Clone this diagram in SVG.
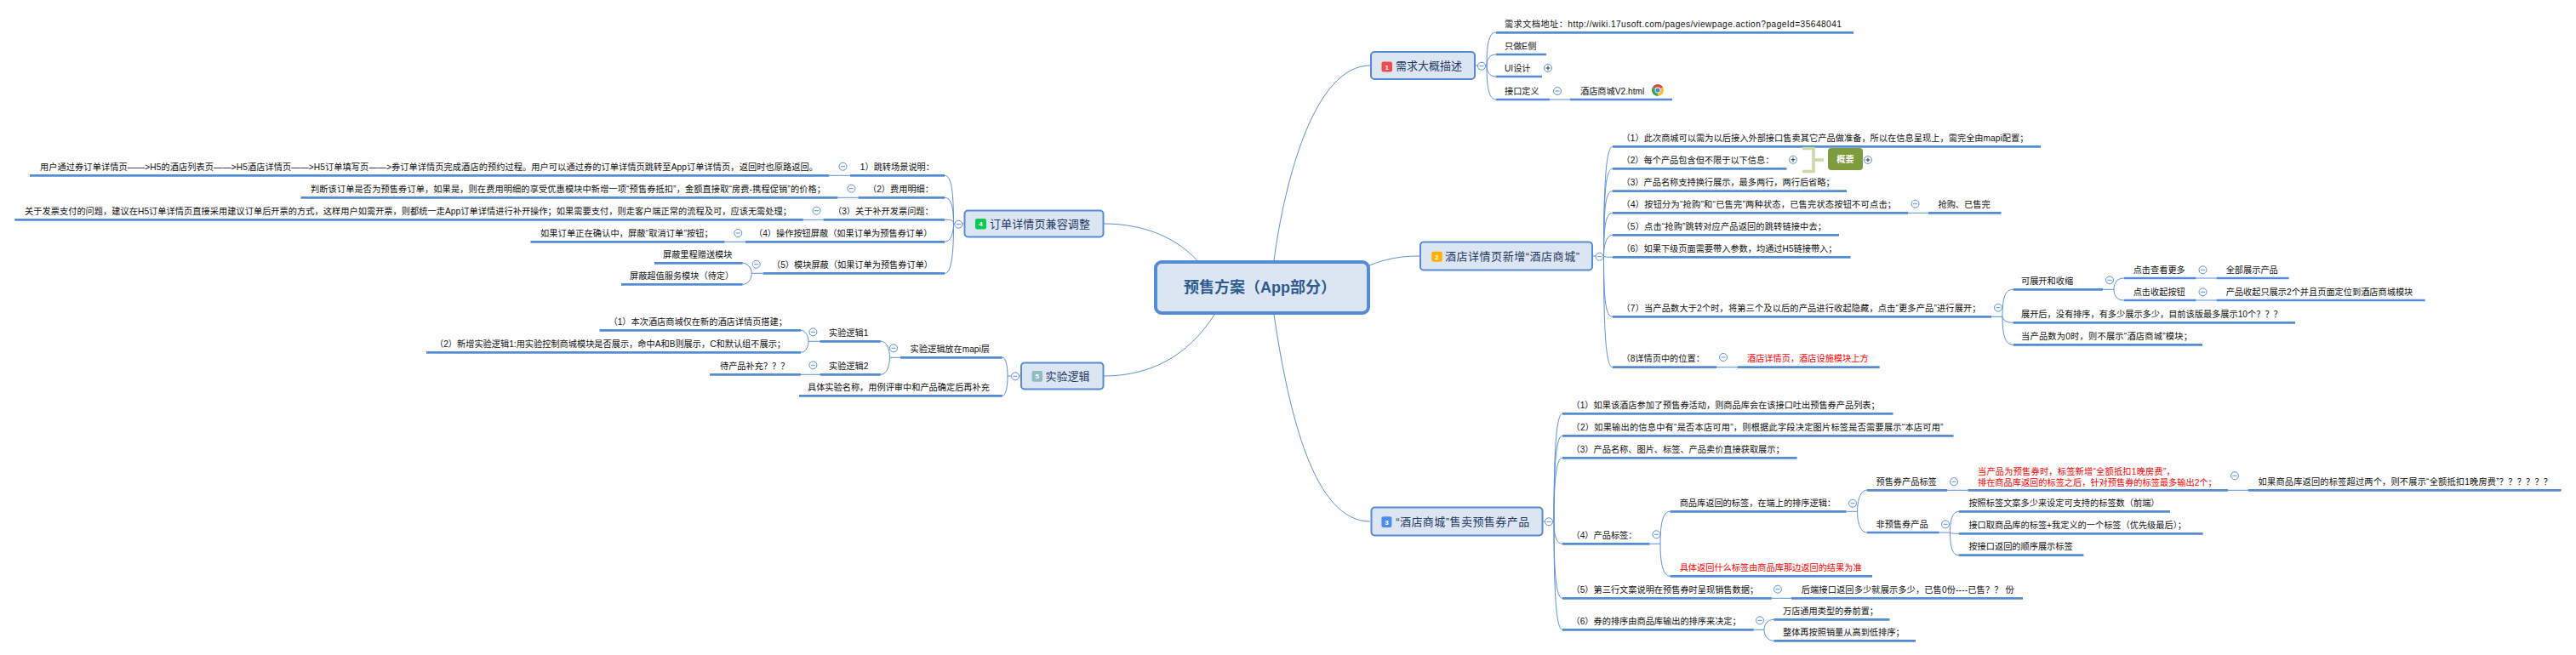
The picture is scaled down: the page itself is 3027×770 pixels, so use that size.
<svg xmlns="http://www.w3.org/2000/svg" xmlns:xlink="http://www.w3.org/1999/xlink" width="3027" height="770" viewBox="0 0 3027 770">
<style>
text{font-family:"Liberation Sans","Noto Sans CJK SC",sans-serif;font-size:10.2px;fill:#111}
.r{fill:#f00}
.u{stroke:#568bd5;stroke-width:2.7;fill:none}
.c{stroke:#5c90d8;stroke-width:1;fill:none}
.b{fill:#dce6f2;stroke:#568bd5;stroke-width:2}
.h{font-size:13px;fill:#1f3864}
.n{font-size:8px;font-weight:700;fill:#fff;text-anchor:middle}
.k{fill:#fff;stroke:#5c90d8;stroke-width:1}
</style>
<defs>
<g id="mi"><circle class="k" r="4.5"/><path d="M-2.5 0H2.5" stroke="#5c90d8" stroke-width="1"/></g>
<g id="pl"><circle class="k" r="4.5"/><path d="M-2.5 0H2.5M0 -2.5V2.5" stroke="#333" stroke-width="1"/></g>
</defs>
<rect width="3027" height="770" fill="#fff"/>
<g id="connectors">
<path class="c" d="M1610 77C1545 77 1510 210 1497 306"/>
<path class="c" d="M1609 312C1630 304 1645 301 1668 301"/>
<path class="c" d="M1497 370C1515 490 1545 613 1610 613"/>
<path class="c" d="M1297 263C1345 263 1385 280 1410 310"/>
<path class="c" d="M1297 442C1350 442 1395 420 1427 370"/>
<path class="c" d="M1734 77H1747M1747 77C1747 50 1750 38 1758 38M1747 77C1747 70 1750 64 1758 64M1747 77C1747 84 1750 90 1758 90M1747 77C1747 104 1750 117 1758 117M1821 117H1845"/>
<path class="c" d="M1872 301H1884.500M1884.500 301C1884.500 220 1887 172.300 1895 172.300M1884.500 301C1884.500 225 1887 198.300 1895 198.300M1884.500 301C1884.500 240 1887 224.700 1895 224.700M1884.500 301C1884.500 265 1887 250.300 1895 250.300M1884.500 301C1884.500 290 1887 276.300 1895 276.300M1884.500 301C1885 302 1887 302.300 1895 302.300M1884.500 301C1884.500 355 1887 372.300 1895 372.300M1884.500 301C1884.500 390 1887 431.700 1895 431.700M2242 250.300H2266M2017 431.700H2041.600"/>
<path class="c" d="M2340 372.300H2353M2353 372.300C2353 350 2356 340.300 2365.600 340.300M2353 372.300C2354 376 2357 379.300 2365.600 379.300M2353 372.300C2353 393 2356 405.300 2365.600 405.300M2471 340.300H2484M2484 340.300C2484 332 2488 327 2496 327M2484 340.300C2484 348 2488 353 2496 353M2580.500 327H2604.500M2580.500 353H2604.500"/>
<path class="c" d="M1813 613H1826M1826 613C1826 540 1828 486.300 1836 486.300M1826 613C1826 550 1828 512.300 1836 512.300M1826 613C1826 570 1828 538.300 1836 538.300M1826 613C1826 630 1829 639.300 1836 639.300M1826 613C1826 670 1828 703.300 1836 703.300M1826 613C1826 690 1828 740.300 1836 740.300"/>
<path class="c" d="M1938.400 639.300H1951M1951 639.300C1951 615 1954 601.300 1962.500 601.300M1951 639.300C1951 662 1954 677.300 1962.500 677.300M2169.600 601.300H2182.600M2182.600 601.300C2182.600 588 2186 576.300 2193.800 576.300M2182.600 601.300C2182.600 614 2186 626 2193.800 626M2288 576.300H2312.500M2618 576.300H2642M2278.600 626H2291.500M2291.500 626C2291.500 612 2294 601.300 2301.800 601.300M2291.500 626C2292 627 2295 627.300 2301.800 627.300M2291.500 626C2291.500 642 2294 652.700 2301.800 652.700M2081.700 703.300H2105M2060.700 740.300H2073M2073 740.300C2073 734 2077 728.300 2084.400 728.300M2073 740.300C2073 747 2077 753.300 2084.400 753.300"/>
<path class="c" d="M1132.500 263H1120.500M1120.500 263C1120.500 225 1118 206.300 1110 206.300M1120.500 263C1120.500 245 1118 232.300 1110 232.300M1120.500 263C1120 258 1117 258.300 1110 258.300M1120.500 263C1120.500 272 1118 284.300 1110 284.300M1120.500 263C1120.500 300 1118 321.300 1110 321.300M974.400 206.300H999M984.400 232.300H1008.500M943.800 258.300H967.500M851.600 284.300H875.700M896.700 321.300H883.300M883.300 321.300C883.300 316 879 309.300 872.600 309.300M883.300 321.300C883.300 328 879 334.300 872.600 334.300"/>
<path class="c" d="M1199 442H1184M1184 442C1184 430 1182 420.300 1177.700 420.300M1184 442C1184 455 1182 465.300 1177.700 465.300M1058 420.300H1045.500M1045.500 420.300C1045.500 410 1042 401.300 1034.800 401.300M1045.500 420.300C1045.500 430 1042 440.300 1034.800 440.300M963.400 401.300H950M950 401.300C950 396 947 388.300 941 388.300M950 401.300C950 407 947 414.300 941 414.300M963.400 440.300H941"/>
</g>
<g id="center"><rect x="1358" y="308" width="250" height="60" rx="7" fill="#dce6f2" stroke="#568bd5" stroke-width="4"/><text x="1391" y="344" style="font-size:18px;font-weight:700;fill:#2f5a8f">预售方案（App部分）</text></g>
<g id="topic1"><rect class="b" x="1611" y="61" width="122" height="32" rx="4"/><rect x="1623.500" y="72.500" width="12.500" height="12" rx="2" fill="#ef4d4d"/><text class="n" x="1629.700" y="81.500">1</text><text class="h" x="1640" y="82">需求大概描述</text><use xlink:href="#mi" href="#mi" x="1741" y="77.700"/></g>
<g id="n1a"><line class="u" x1="1758" y1="38.300" x2="2178" y2="38.300"/><text x="1768" y="32" textLength="396">需求文档地址：http://wiki.17usoft.com/pages/viewpage.action?pageId=35648041</text></g>
<g id="n1b"><line class="u" x1="1758" y1="64" x2="1817" y2="64"/><text x="1768" y="57.500">只做E侧</text></g>
<g id="n1c"><line class="u" x1="1758" y1="90" x2="1812" y2="90"/><text x="1768" y="83.500">UI设计</text><use xlink:href="#pl" href="#pl" x="1819" y="80"/></g>
<g id="n1d"><line class="u" x1="1758" y1="117" x2="1821" y2="117"/><text x="1768" y="110.500">接口定义</text><use xlink:href="#mi" href="#mi" x="1830" y="107"/></g>
<g id="n1e"><line class="u" x1="1845" y1="117" x2="1965" y2="117"/><text x="1857" y="110.500">酒店商城V2.html</text><g transform="translate(1948 106)"><path d="M0 0L-6.060 -3.500A7 7 0 0 1 6.060 -3.500Z" fill="#e04a3f"/><path d="M0 0L6.060 -3.500A7 7 0 0 1 0 7Z" fill="#f7c22f"/><path d="M0 0L0 7A7 7 0 0 1 -6.060 -3.500Z" fill="#3aa655"/><circle r="3.400" fill="#fff"/><circle r="2.600" fill="#4a88e8"/></g></g>
<g id="topic2"><rect class="b" x="1669" y="284.500" width="202" height="33" rx="4"/><rect x="1682.300" y="295.700" width="12.500" height="12" rx="2" fill="#ffb000"/><text class="n" x="1688.500" y="304.700">2</text><text class="h" x="1698" y="306" textLength="158">酒店详情页新增“酒店商城”</text><use xlink:href="#mi" href="#mi" x="1879.600" y="301.700"/></g>
<g id="n2a"><line class="u" x1="1895" y1="172.300" x2="2398" y2="172.300"/><text x="1905.500" y="165.800" textLength="478">（1）此次商城可以需为以后接入外部接口售卖其它产品做准备，所以在信息呈现上，需完全由mapi配置；</text></g>
<g id="n2b"><line class="u" x1="1895" y1="198.300" x2="2099.500" y2="198.300"/><text x="1905.500" y="191.800">（2）每个产品包含但不限于以下信息：</text><use xlink:href="#pl" href="#pl" x="2107" y="187.700"/></g>
<g id="summary"><path d="M2118 174.500H2131V201.500H2118M2131 188H2143" fill="none" stroke="#c9dba6" stroke-width="3.500"/><rect x="2148" y="174" width="41" height="26" rx="4" fill="#7e9b3e"/><text x="2168.500" y="191" text-anchor="middle" style="fill:#fff;font-weight:700">概要</text><use xlink:href="#pl" href="#pl" x="2195" y="188"/></g>
<g id="n2c"><line class="u" x1="1895" y1="224.700" x2="2170" y2="224.700"/><text x="1905.500" y="218.200">（3）产品名称支持换行展示，最多两行，两行后省略；</text></g>
<g id="n2d"><line class="u" x1="1895" y1="250.300" x2="2242" y2="250.300"/><text x="1905.500" y="243.800" textLength="322.500">（4）按钮分为“抢购”和“已售完”两种状态，已售完状态按钮不可点击；</text><use xlink:href="#mi" href="#mi" x="2250.500" y="239.700"/></g>
<g id="n2d1"><line class="u" x1="2266" y1="250.300" x2="2351.500" y2="250.300"/><text x="2277.500" y="243.800">抢购、已售完</text></g>
<g id="n2e"><line class="u" x1="1895" y1="276.300" x2="2161" y2="276.300"/><text x="1905.500" y="269.800" textLength="240.500">（5）点击“抢购”跳转对应产品返回的跳转链接中去；</text></g>
<g id="n2f"><line class="u" x1="1895" y1="302.300" x2="2174.500" y2="302.300"/><text x="1905.500" y="295.800">（6）如果下级页面需要带入参数，均通过H5链接带入；</text></g>
<g id="n2g"><line class="u" x1="1895" y1="372.300" x2="2340" y2="372.300"/><text x="1905.500" y="365.800" textLength="422">（7）当产品数大于2个时，将第三个及以后的产品进行收起隐藏，点击“更多产品”进行展开；</text><use xlink:href="#mi" href="#mi" x="2348" y="361.700"/></g>
<g id="n2g1"><line class="u" x1="2365.600" y1="340.300" x2="2471" y2="340.300"/><text x="2375" y="333.800">可展开和收缩</text><use xlink:href="#mi" href="#mi" x="2479" y="329.300"/></g>
<g id="n2g1a"><line class="u" x1="2496" y1="327" x2="2580.500" y2="327"/><text x="2506.700" y="320.500">点击查看更多</text><use xlink:href="#mi" href="#mi" x="2588.500" y="317.300"/></g>
<g id="n2g1a1"><line class="u" x1="2604.500" y1="327" x2="2689.500" y2="327"/><text x="2615.700" y="320.500">全部展示产品</text></g>
<g id="n2g1b"><line class="u" x1="2496" y1="353" x2="2580.500" y2="353"/><text x="2506.700" y="346.500">点击收起按钮</text><use xlink:href="#mi" href="#mi" x="2588.500" y="343.300"/></g>
<g id="n2g1b1"><line class="u" x1="2604.500" y1="353" x2="2849.600" y2="353"/><text x="2615.700" y="346.500">产品收起只展示2个并且页面定位到酒店商城模块</text></g>
<g id="n2g2"><line class="u" x1="2365.600" y1="379.300" x2="2697" y2="379.300"/><text x="2375" y="372.800">展开后，没有排序，有多少展示多少，目前该版最多展示10个？？？</text></g>
<g id="n2g3"><line class="u" x1="2365.600" y1="405.300" x2="2588" y2="405.300"/><text x="2375" y="398.800" textLength="200.900">当产品数为0时，则不展示“酒店商城”模块；</text></g>
<g id="n2h"><line class="u" x1="1895" y1="431.700" x2="2017" y2="431.700"/><text x="1905.500" y="425.200">（8详情页中的位置：</text><use xlink:href="#mi" href="#mi" x="2025" y="420"/></g>
<g id="n2h1"><line class="u" x1="2041.600" y1="431.700" x2="2208.700" y2="431.700"/><text class="r" x="2053" y="425.200">酒店详情页，酒店设施模块上方</text></g>
<g id="topic3"><rect class="b" x="1611.500" y="596.500" width="201" height="33" rx="4"/><rect x="1623.400" y="607.300" width="12" height="12.700" rx="2" fill="#4a8cf0"/><text class="n" x="1629.400" y="616.600">3</text><text class="h" x="1640.200" y="618" textLength="157">“酒店商城”售卖预售券产品</text><use xlink:href="#mi" href="#mi" x="1820" y="613.300"/></g>
<g id="n3a"><line class="u" x1="1836" y1="486.300" x2="2224.500" y2="486.300"/><text x="1846.500" y="479.800">（1）如果该酒店参加了预售券活动，则商品库会在该接口吐出预售券产品列表；</text></g>
<g id="n3b"><line class="u" x1="1836" y1="512.300" x2="2295.500" y2="512.300"/><text x="1846.500" y="505.800" textLength="437">（2）如果输出的信息中有“是否本店可用”，则根据此字段决定图片标签是否需要展示“本店可用”</text></g>
<g id="n3c"><line class="u" x1="1836" y1="538.300" x2="2111.600" y2="538.300"/><text x="1846.500" y="531.800">（3）产品名称、图片、标签、产品卖价直接获取展示；</text></g>
<g id="n3d"><line class="u" x1="1836" y1="639.300" x2="1938.400" y2="639.300"/><text x="1846.500" y="632.800">（4）产品标签：</text><use xlink:href="#mi" href="#mi" x="1946.400" y="628.300"/></g>
<g id="n3d1"><line class="u" x1="1962.500" y1="601.300" x2="2169.600" y2="601.300"/><text x="1973.700" y="594.800">商品库返回的标签，在端上的排序逻辑：</text><use xlink:href="#mi" href="#mi" x="2177" y="591.700"/></g>
<g id="n3d2"><line class="u" x1="1962.500" y1="677.300" x2="2200" y2="677.300"/><text class="r" x="1973.700" y="670.800">具体返回什么标签由商品库那边返回的结果为准</text></g>
<g id="n3d1a"><line class="u" x1="2193.800" y1="576.300" x2="2288" y2="576.300"/><text x="2204.500" y="569.800">预售券产品标签</text><use xlink:href="#mi" href="#mi" x="2296" y="566.300"/></g>
<g id="n3d1a1"><line class="u" x1="2312.500" y1="576.300" x2="2618" y2="576.300"/><text class="r" x="2324" y="558" textLength="231.700">当产品为预售券时，标签新增“全额抵扣1晚房费”，</text><text class="r" x="2324" y="570.700">排在商品库返回的标签之后，针对预售券的标签最多输出2个；</text><use xlink:href="#mi" href="#mi" x="2626" y="559.300"/></g>
<g id="n3d1a2"><line class="u" x1="2642" y1="576.300" x2="3009.600" y2="576.300"/><text x="2653.600" y="569.800" textLength="345.400">如果商品库返回的标签超过两个，则不展示“全额抵扣1晚房费”？？？？？？</text></g>
<g id="n3d1b"><line class="u" x1="2193.800" y1="626" x2="2278.600" y2="626"/><text x="2204.500" y="619.500">非预售券产品</text><use xlink:href="#mi" href="#mi" x="2286" y="616.300"/></g>
<g id="n3d1b1"><line class="u" x1="2301.800" y1="601.300" x2="2550" y2="601.300"/><text x="2313.400" y="594.800">按照标签文案多少来设定可支持的标签数（前端）</text></g>
<g id="n3d1b2"><line class="u" x1="2301.800" y1="627.300" x2="2588.700" y2="627.300"/><text x="2313.400" y="620.800">接口取商品库的标签+我定义的一个标签（优先级最后）；</text></g>
<g id="n3d1b3"><line class="u" x1="2301.800" y1="652.700" x2="2448.400" y2="652.700"/><text x="2313.400" y="646.200">按接口返回的顺序展示标签</text></g>
<g id="n3e"><line class="u" x1="1836" y1="703.300" x2="2081.700" y2="703.300"/><text x="1846.500" y="696.800">（5）第三行文案说明在预售券时呈现销售数据；</text><use xlink:href="#mi" href="#mi" x="2089" y="692.700"/></g>
<g id="n3e1"><line class="u" x1="2105" y1="703.300" x2="2377" y2="703.300"/><text x="2116.700" y="696.800" textLength="250">后端接口返回多少就展示多少，已售0份----已售？？ 份</text></g>
<g id="n3f"><line class="u" x1="1836" y1="740.300" x2="2060.700" y2="740.300"/><text x="1846.500" y="733.800">（6）券的排序由商品库输出的排序来决定；</text><use xlink:href="#mi" href="#mi" x="2068" y="729.300"/></g>
<g id="n3f1"><line class="u" x1="2084.400" y1="728.300" x2="2220.500" y2="728.300"/><text x="2095" y="721.800">万店通用类型的券前置；</text></g>
<g id="n3f2"><line class="u" x1="2084.400" y1="753.300" x2="2251" y2="753.300"/><text x="2095" y="746.800">整体再按照销量从高到低排序；</text></g>
<g id="topic4"><rect class="b" x="1133.500" y="247.500" width="163" height="31" rx="4"/><rect x="1146" y="257" width="13" height="12.500" rx="2" fill="#0bca4f"/><text class="n" x="1152.500" y="266.300">4</text><text class="h" x="1163" y="268" textLength="118">订单详情页兼容调整</text><use xlink:href="#mi" href="#mi" x="1126.300" y="263.700"/></g>
<g id="n4a"><line class="u" x1="999" y1="206.300" x2="1110" y2="206.300"/><text x="1010.800" y="199.800">1）跳转场景说明：</text><use xlink:href="#mi" href="#mi" x="990.500" y="195.700"/></g>
<g id="n4a1"><line class="u" x1="35" y1="206.300" x2="974.400" y2="206.300"/><text x="47" y="199.800" textLength="914">用户通过券订单详情页——&gt;H5的酒店列表页——&gt;H5酒店详情页——&gt;H5订单填写页——&gt;券订单详情页完成酒店的预约过程。用户可以通过券的订单详情页跳转至App订单详情页，返回时也原路返回。</text></g>
<g id="n4b"><line class="u" x1="1008.500" y1="232.300" x2="1110" y2="232.300"/><text x="1020" y="225.800">（2）费用明细：</text><use xlink:href="#mi" href="#mi" x="1000.400" y="221.700"/></g>
<g id="n4b1"><line class="u" x1="353.600" y1="232.300" x2="984.400" y2="232.300"/><text x="365" y="225.800" textLength="605">判断该订单是否为预售券订单，如果是，则在费用明细的享受优惠模块中新增一项“预售券抵扣”，金额直接取“房费-携程促销”的价格；</text></g>
<g id="n4c"><line class="u" x1="967.500" y1="258.300" x2="1110" y2="258.300"/><text x="979" y="251.800">（3）关于补开发票问题：</text><use xlink:href="#mi" href="#mi" x="959.500" y="247.700"/></g>
<g id="n4c1"><line class="u" x1="17.400" y1="258.300" x2="943.800" y2="258.300"/><text x="29" y="251.800" textLength="901">关于发票支付的问题，建议在H5订单详情页直接采用建议订单后开票的方式，这样用户如需开票，则都统一走App订单详情进行补开操作；如果需要支付，则走客户端正常的流程及可，应该无需处理；</text></g>
<g id="n4d"><line class="u" x1="875.700" y1="284.300" x2="1110" y2="284.300"/><text x="886" y="277.800">（4）操作按钮屏蔽（如果订单为预售券订单）</text><use xlink:href="#mi" href="#mi" x="867.300" y="274"/></g>
<g id="n4d1"><line class="u" x1="623.500" y1="284.300" x2="851.600" y2="284.300"/><text x="635" y="277.800" textLength="202.700">如果订单正在确认中，屏蔽“取消订单”按钮；</text></g>
<g id="n4e"><line class="u" x1="896.700" y1="321.300" x2="1110" y2="321.300"/><text x="907" y="314.800">（5）模块屏蔽（如果订单为预售券订单）</text><use xlink:href="#mi" href="#mi" x="888.700" y="310.700"/></g>
<g id="n4e1"><line class="u" x1="769" y1="309.300" x2="872.600" y2="309.300"/><text x="779" y="302.800">屏蔽里程赠送模块</text></g>
<g id="n4e2"><line class="u" x1="730" y1="334.300" x2="872.600" y2="334.300"/><text x="740" y="327.800">屏蔽超值服务模块（待定）</text></g>
<g id="topic5"><rect class="b" x="1200" y="426.500" width="96.500" height="31" rx="4"/><rect x="1212.500" y="436" width="12.500" height="12.700" rx="2" fill="#8fbcc4"/><text class="n" x="1218.700" y="445.300">5</text><text class="h" x="1228.600" y="447">实验逻辑</text><use xlink:href="#mi" href="#mi" x="1193" y="442.300"/></g>
<g id="n5a"><line class="u" x1="1058" y1="420.300" x2="1177.700" y2="420.300"/><text x="1069.600" y="413.800">实验逻辑放在mapi层</text><use xlink:href="#mi" href="#mi" x="1050" y="409.300"/></g>
<g id="n5b"><line class="u" x1="939" y1="465.300" x2="1177.700" y2="465.300"/><text x="949" y="458.800">具体实验名称，用例评审中和产品确定后再补充</text></g>
<g id="n5a1"><line class="u" x1="963.400" y1="401.300" x2="1034.800" y2="401.300"/><text x="974" y="394.800">实验逻辑1</text><use xlink:href="#mi" href="#mi" x="955.400" y="390.300"/></g>
<g id="n5a2"><line class="u" x1="963.400" y1="440.300" x2="1034.800" y2="440.300"/><text x="974" y="433.800">实验逻辑2</text><use xlink:href="#mi" href="#mi" x="955.400" y="429.300"/></g>
<g id="n5c"><line class="u" x1="704.500" y1="388.300" x2="941" y2="388.300"/><text x="715.500" y="381.800">（1）本次酒店商城仅在新的酒店详情页搭建；</text></g>
<g id="n5d"><line class="u" x1="501" y1="414.300" x2="941" y2="414.300"/><text x="511" y="407.800">（2）新增实验逻辑1:用实验控制商城模块是否展示，命中A和B则展示，C和默认组不展示；</text></g>
<g id="n5e"><line class="u" x1="834" y1="440.300" x2="941" y2="440.300"/><text x="846" y="433.800">待产品补充？？？</text></g>
</svg>
